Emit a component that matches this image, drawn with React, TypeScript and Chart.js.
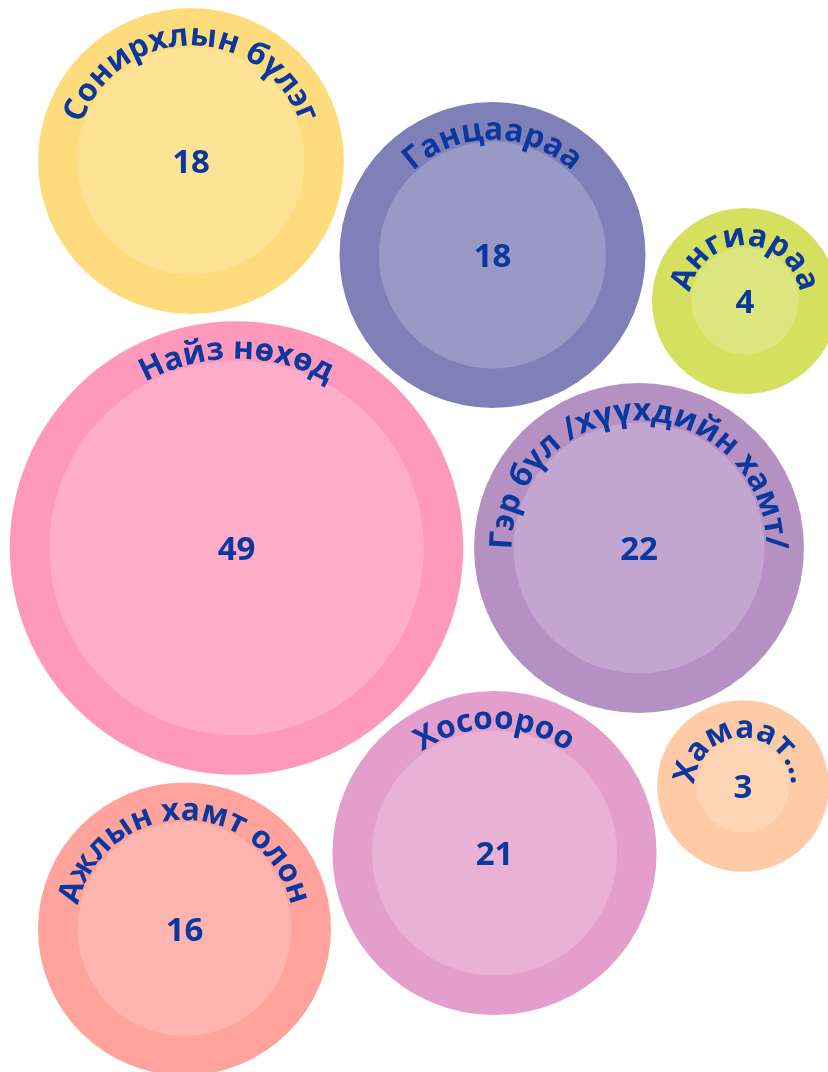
import React, { useEffect, useRef } from "react";
import { Chart, registerables } from "chart.js";

Chart.register(...registerables);

// Categories and their counts
const categories: string[] = [
  "Сонирхлын бүлэг",
  "Ганцаараа",
  "Ангиараа",
  "Найз нөхөд",
  "Гэр бүл /хүүхдийн хамт/",
  "Хосоороо",
  "Хамаат...",
  "Ажлын хамт олон",
];
const values: number[] = [18, 18, 4, 49, 22, 21, 3, 16];

// Packed-bubble layout centres (layout units)
const packX: number[] = [191, 492.5, 745, 236.5, 639, 494.5, 743, 184.5];
const packY: number[] = [161, 255, 301, 548, 548, 853, 786, 929];

const colors: string[] = [
  "#FEDC7E",
  "#8080B8",
  "#D4E05E",
  "#FF99BB",
  "#B590C3",
  "#E39ECB",
  "#FFCBA7",
  "#FFA39C",
];

const TEXT_COLOR = "#0A389F";
const SCALE_K = 26.75; // px per sqrt(unit)
const RING = 39.5;

const innerR = (v: number) => SCALE_K * Math.sqrt(v);
const outerR = (v: number) => innerR(v) + RING;

const labelPlugin = {
  id: "bubbleLabels",
  afterDatasetsDraw(chart: any) {
    const meta = chart.getDatasetMeta(1);
    const ctx: CanvasRenderingContext2D = chart.ctx;
    meta.data.forEach((el: any, i: number) => {
      const cx = el.x;
      const cy = el.y;
      const v = values[i];
      ctx.save();
      ctx.fillStyle = TEXT_COLOR;
      // value
      ctx.font = "bold 33px 'Open Sans'";
      ctx.textAlign = "center";
      ctx.textBaseline = "middle";
      ctx.fillText(String(v), cx, cy + 3);
      // curved label
      const text = categories[i];
      ctx.font = "bold 31.5px 'Open Sans'";
      ctx.textBaseline = "alphabetic";
      const R = innerR(v) + 2;
      const total = ctx.measureText(text).width;
      const span = total / R;
      const start = -Math.PI / 2 - span / 2;
      const chars = Array.from(text);
      let acc = "";
      chars.forEach((ch) => {
        const before = ctx.measureText(acc).width;
        acc += ch;
        const after = ctx.measureText(acc).width;
        const mid = (before + after) / 2;
        const a = start + mid / R;
        ctx.save();
        ctx.translate(cx + R * Math.cos(a), cy + R * Math.sin(a));
        ctx.rotate(a + Math.PI / 2);
        ctx.fillText(ch, 0, 0);
        ctx.restore();
      });
      ctx.restore();
    });
  },
};

export default function App() {
  const ref = useRef<HTMLCanvasElement | null>(null);
  useEffect(() => {
    document.body.style.margin = "0";
    if (!ref.current) return;
    const innerData = values.map((v, i) => ({ x: packX[i], y: packY[i], r: innerR(v) }));
    const outerData = values.map((v, i) => ({ x: packX[i], y: packY[i], r: outerR(v) }));
    const chart = new Chart(ref.current, {
      type: "bubble",
      data: {
        datasets: [
          {
            label: "inner",
            data: innerData,
            backgroundColor: "rgba(255,255,255,0.2)",
            borderWidth: 0,
            hoverRadius: 0,
          },
          {
            label: "outer",
            data: outerData,
            backgroundColor: colors,
            borderWidth: 0,
            hoverRadius: 0,
          },
        ],
      },
      options: {
        animation: false,
        responsive: false,
        devicePixelRatio: 1,
        layout: { padding: 0, autoPadding: false },
        events: [],
        scales: {
          x: { type: "linear", min: 0, max: 828, display: false },
          y: { type: "linear", min: 0, max: 1072, reverse: true, display: false },
        },
        plugins: {
          legend: { display: false },
          tooltip: { enabled: false },
        },
      },
      plugins: [labelPlugin],
    });
    return () => chart.destroy();
  }, []);
  return (
    <div style={{ width: 828, height: 1072, background: "#fff" }}>
      <canvas ref={ref} width={828} height={1072} style={{ display: "block" }} />
    </div>
  );
}
